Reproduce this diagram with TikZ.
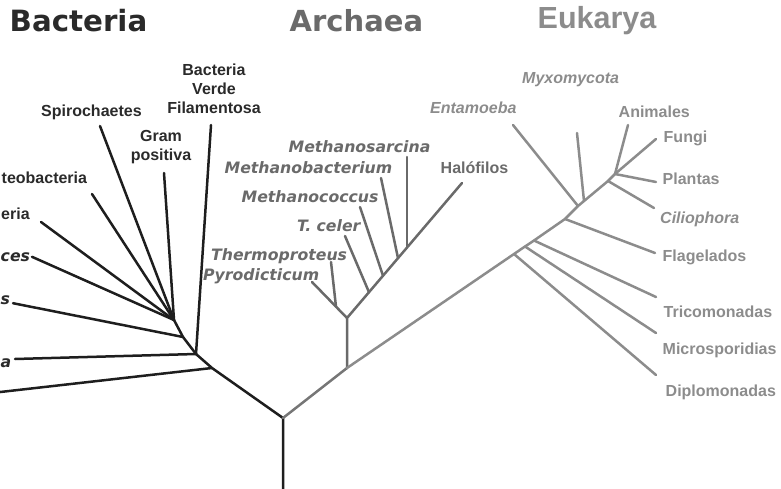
\documentclass[tikz,border=0pt]{standalone}
\usepackage{fontspec}
\setmainfont{Liberation Sans}
\newfontfamily\dvs{DejaVu Sans}
\definecolor{bline}{HTML}{1E1E1E}
\definecolor{btext}{HTML}{2A2A2A}
\definecolor{aline}{HTML}{6A6A6A}
\definecolor{atext}{HTML}{6A6A6A}
\definecolor{eline}{HTML}{8C8C8C}
\definecolor{etext}{HTML}{8C8C8C}
\definecolor{rline}{HTML}{767676}
\begin{document}
\begin{tikzpicture}[x=1pt,y=-1pt,
  branch/.style={line width=2.5pt,line cap=round,line join=round},
  bac/.style={branch,draw=bline},
  arc/.style={branch,draw=aline},
  euk/.style={branch,draw=eline},
  lab/.style={inner sep=0pt,font=\fontsize{16}{19}\selectfont\bfseries},
  ilab/.style={inner sep=0pt,font=\dvs\fontsize{15.7}{19}\selectfont\bfseries\itshape},
  eilab/.style={lab,font=\fontsize{16}{19}\selectfont\bfseries\itshape},
  title/.style={inner sep=0pt,anchor=base west}]
\useasboundingbox (0,0) rectangle (781,489);
\clip (0,0) rectangle (781,489);

% ---------- titles ----------
\node[title,text=btext,font=\dvs\fontsize{29.3}{34}\selectfont\bfseries] (tBac) at (9.5,32) {Bacteria};
\node[title,text=atext,font=\dvs\fontsize{29}{34}\selectfont\bfseries] (tArc) at (289.5,32) {Archaea};
\node[title,text=etext,font=\fontsize{30.5}{36}\selectfont\bfseries] (tEuk) at (537.5,28.5) {Eukarya};

% ---------- coordinates ----------
\coordinate (root) at (283,418);
\coordinate (base) at (283,495);
% Bacteria
\coordinate (J4) at (212,368);
\coordinate (J3) at (196,354);
\coordinate (J2) at (183,337);
\coordinate (J1) at (174,320);
\coordinate (aqu) at (-5,392.6);
\coordinate (ther) at (15,359);
\coordinate (bacto) at (13,303.2);
\coordinate (plan) at (32,256.8);
\coordinate (cyan) at (41,222);
\coordinate (prot) at (92,194);
\coordinate (spir) at (100,126);
\coordinate (gram) at (164,173);
\coordinate (verde) at (211,125);
% Archaea
\coordinate (A0) at (347,368);
\coordinate (A1) at (347,318);
\coordinate (pyro) at (312,282);
\coordinate (thJ) at (336,306.7);
\coordinate (thermo) at (331,262);
\coordinate (tcJ) at (369,292.2);
\coordinate (tc) at (345,236);
\coordinate (mcJ) at (383,275.7);
\coordinate (mc) at (360,207);
\coordinate (mbJ) at (398,258.1);
\coordinate (mb) at (381,178);
\coordinate (msJ) at (407,247.6);
\coordinate (ms) at (407,157);
\coordinate (hal) at (462,183);
% Eukarya
\coordinate (Ed) at (514,254);
\coordinate (Em) at (525,246.5);
\coordinate (Et) at (534,240.5);
\coordinate (Ef) at (565,219);
\coordinate (Ex) at (578,206);
\coordinate (Ey) at (584,201);
\coordinate (Ec) at (608,181);
\coordinate (Ek) at (615,174);
\coordinate (ent) at (513,125);
\coordinate (myx) at (577,133);
\coordinate (ani) at (628,125);
\coordinate (fun) at (656,139);
\coordinate (pla) at (656,182);
\coordinate (cil) at (654,208);
\coordinate (fla) at (655,253);
\coordinate (tri) at (656,297);
\coordinate (mic) at (656,333);
\coordinate (dip) at (656,375);

% ---------- Bacteria branches ----------
\draw[bac] (base) -- (root) -- (J4) -- (J3) -- (J2) -- (J1);
\draw[bac] (J4) -- (aqu);
\draw[bac] (J3) -- (ther);
\draw[bac] (J3) -- (verde);
\draw[bac] (J2) -- (bacto);
\draw[bac] (J1) -- (plan);
\draw[bac] (J1) -- (cyan);
\draw[bac] (J1) -- (prot);
\draw[bac] (J1) -- (spir);
\draw[bac] (J1) -- (gram);

% ---------- Archaea branches ----------
\draw[branch,draw=rline] (root) -- (A0);
\draw[arc] (A0) -- (A1) -- (hal);
\draw[arc] (A1) -- (pyro);
\draw[arc] (thJ) -- (thermo);
\draw[arc] (tcJ) -- (tc);
\draw[arc] (mcJ) -- (mc);
\draw[arc] (mbJ) -- (mb);
\draw[arc] (msJ) -- (ms);

% ---------- Eukarya branches ----------
\draw[euk] (A0) -- (Ed) -- (Em) -- (Et) -- (Ef) -- (Ex) -- (Ey) -- (Ec) -- (Ek);
\draw[euk] (Ed) -- (dip);
\draw[euk] (Em) -- (mic);
\draw[euk] (Et) -- (tri);
\draw[euk] (Ef) -- (fla);
\draw[euk] (Ex) -- (ent);
\draw[euk] (Ey) -- (myx);
\draw[euk] (Ec) -- (cil);
\draw[euk] (Ek) -- (ani);
\draw[euk] (Ek) -- (fun);
\draw[euk] (Ek) -- (pla);

% ---------- Bacteria labels ----------
\node[lab,text=btext,align=center,anchor=south] (lVerde) at (214,114) {Bacteria\\Verde\\Filamentosa};
\node[lab,text=btext,anchor=base west] (lSpir) at (41,117) {Spirochaetes};
\node[lab,text=btext,align=center,anchor=north] (lGram) at (161,130.5) {Gram\\positiva};
\node[lab,text=btext,anchor=base west] (lProt) at (1.5,183) {teobacteria};
\node[lab,text=btext,anchor=base west] (lCyan) at (1,219) {eria};
\node[ilab,text=btext,anchor=base west] (lPlan) at (0.5,261) {ces};
\node[ilab,text=btext,anchor=base west] (lBacto) at (0.5,304) {s};
\node[ilab,text=btext,anchor=base west] (lTher) at (0.5,367) {a};

% ---------- Archaea labels ----------
\node[ilab,text=atext,anchor=base west] (lMs) at (288.5,153) {Methanosarcina};
\node[ilab,text=atext,anchor=base west] (lMb) at (224.5,174) {Methanobacterium};
\node[ilab,text=atext,anchor=base west] (lMc) at (241.5,202) {Methanococcus};
\node[ilab,text=atext,anchor=base west] (lTc) at (297,231) {T. celer};
\node[ilab,text=atext,anchor=base west] (lTh) at (211,260) {Thermoproteus};
\node[ilab,text=atext,anchor=base west] (lPy) at (203,280) {Pyrodicticum};
\node[lab,text=atext,anchor=base west] (lHal) at (440.5,174) {Halófilos};

% ---------- Eukarya labels ----------
\node[eilab,text=etext,anchor=base west] (lMyx) at (522,84) {Myxomycota};
\node[eilab,text=etext,anchor=base west] (lEnt) at (430,114) {Entamoeba};
\node[lab,text=etext,anchor=base west] (lAni) at (618.5,117.5) {Animales};
\node[lab,text=etext,anchor=base west] (lFun) at (663.5,143) {Fungi};
\node[lab,text=etext,anchor=base west] (lPla) at (662.5,185) {Plantas};
\node[eilab,text=etext,anchor=base west] (lCil) at (660,223) {Ciliophora};
\node[lab,text=etext,anchor=base west] (lFla) at (662.5,261) {Flagelados};
\node[lab,text=etext,anchor=base west] (lTri) at (663.5,317) {Tricomonadas};
\node[lab,text=etext,anchor=base west] (lMic) at (662.5,354.5) {Microsporidias};
\node[lab,text=etext,anchor=base west] (lDip) at (665.5,396) {Diplomonadas};
\end{tikzpicture}
\end{document}
